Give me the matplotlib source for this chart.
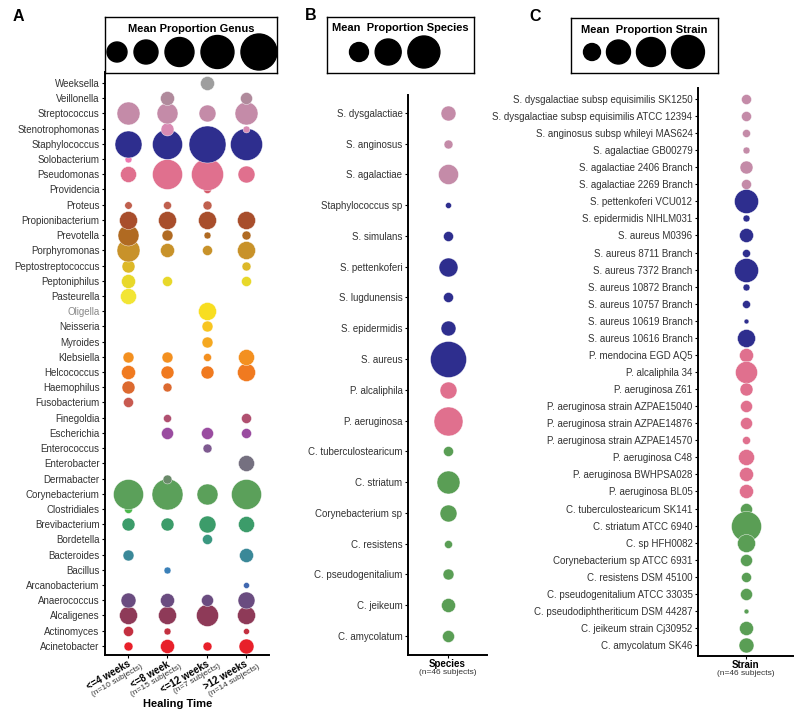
import numpy as np
import matplotlib
matplotlib.use("Agg")
import matplotlib.pyplot as plt
from matplotlib.transforms import offset_copy

plt.rcParams["font.family"] = ["Liberation Sans", "DejaVu Sans"]

# ---- panel A: genus x healing time (mean proportion, %) ----
genera = ["Acinetobacter", "Actinomyces", "Alcaligenes", "Anaerococcus", "Arcanobacterium",
          "Bacillus", "Bacteroides", "Bordetella", "Brevibacterium", "Clostridiales",
          "Corynebacterium", "Dermabacter", "Enterobacter", "Enterococcus", "Escherichia",
          "Finegoldia", "Fusobacterium", "Haemophilus", "Helcococcus", "Klebsiella",
          "Myroides", "Neisseria", "Oligella", "Pasteurella", "Peptoniphilus",
          "Peptostreptococcus", "Porphyromonas", "Prevotella", "Propionibacterium", "Proteus",
          "Providencia", "Pseudomonas", "Solobacterium", "Staphylococcus", "Stenotrophomonas",
          "Streptococcus", "Veillonella", "Weeksella"]
genus_colors = ["#E8202A", "#C33040", "#8E3A58", "#6A4C80", "#4068B0",
                "#3A80B8", "#3A8898", "#3A9880", "#3C9C6A", "#4CB84C",
                "#5BA05A", "#6A8A6A", "#757080", "#7E5A90", "#9A4CA0",
                "#B05070", "#C85A50", "#DC6A30", "#F07A20", "#F39020",
                "#F5A820", "#F8C520", "#F8DE20", "#F2E535", "#E8D82A",
                "#DDB828", "#C8922A", "#B06A22", "#A84E2C", "#C0604E",
                "#D45A6A", "#E0708E", "#EE77B0", "#2E2E8E", "#D98AB3",
                "#C48BA8", "#B08A9C", "#9E9E9E"]
heal_groups = ["<=4 weeks", "<=8 week", "<=12 weeks", ">12 weeks"]
heal_n = ["(n=10 subjects)", "(n=15 subjects)", "(n=7 subjects)", "(n=14 subjects)"]
wk4 = [2.0, 2.5, 8.1, 5.6, 0, 0, 3.0, 0, 4.2, 1.6,
       22.5, 0, 0, 0, 0, 0, 2.5, 4.2, 4.9, 3.0,
       0, 0, 0, 6.4, 4.9, 4.2, 13.2, 11.0, 8.1, 1.4,
       0, 6.4, 1.2, 18.2, 0, 13.2, 0, 0]
wk8 = [4.9, 1.2, 8.1, 4.9, 0, 1.2, 0, 0, 4.2, 0,
       24.0, 2.0, 0, 0, 3.6, 1.6, 0, 2.0, 4.2, 3.0,
       0, 0, 0, 0, 2.5, 0, 4.9, 3.0, 8.1, 1.6,
       0, 22.5, 0, 22.5, 4.2, 11.0, 4.9, 0]
wk12 = [2.0, 0, 12.1, 3.6, 0, 0, 0, 2.5, 7.2, 0,
        11.0, 0, 0, 2.0, 3.6, 0, 0, 0, 4.2, 1.6,
        3.0, 3.0, 8.1, 0, 0, 0, 2.5, 1.2, 8.1, 2.0,
        1.6, 25.6, 0, 34.2, 0, 7.2, 0, 4.9]
wk12p = [5.6, 0.9, 8.1, 7.2, 0.9, 0, 4.9, 0, 6.4, 0,
         22.5, 0, 6.4, 0, 2.5, 2.5, 0, 0, 8.1, 6.4,
         0, 0, 0, 0, 2.5, 2.0, 8.1, 2.0, 8.1, 0,
         0, 7.2, 0, 25.6, 1.2, 13.2, 3.6, 0]
genus_legend = [10.0, 14.4, 21.0, 27.2, 32.4]

# ---- panel B: species ----
species = ["S. dysgalactiae", "S. anginosus", "S. agalactiae", "Staphylococcus sp", "S. simulans",
           "S. pettenkoferi", "S. lugdunensis", "S. epidermidis", "S. aureus", "P. alcaliphila",
           "P. aeruginosa", "C. tuberculostearicum", "C. striatum", "Corynebacterium sp",
           "C. resistens", "C. pseudogenitalium", "C. jeikeum", "C. amycolatum"]
species_vals = [5.6, 2.0, 10.0, 0.9, 2.5, 9.0, 2.5, 5.6, 32.4, 7.2,
                21.0, 2.5, 13.2, 7.2, 1.6, 3.0, 4.9, 3.6]
species_genus = ["Strep"] * 3 + ["Staph"] * 6 + ["Pseudo"] * 2 + ["Coryne"] * 7
species_legend = [9.0, 16.9, 25.6]

# ---- panel C: strain ----
strains = ["S. dysgalactiae subsp equisimilis SK1250", "S. dysgalactiae subsp equisimilis ATCC 12394",
           "S. anginosus subsp whileyi MAS624", "S. agalactiae GB00279", "S. agalactiae 2406 Branch",
           "S. agalactiae 2269 Branch", "S. pettenkoferi VCU012", "S. epidermidis NIHLM031",
           "S. aureus M0396", "S. aureus 8711 Branch", "S. aureus 7372 Branch",
           "S. aureus 10872 Branch", "S. aureus 10757 Branch", "S. aureus 10619 Branch",
           "S. aureus 10616 Branch", "P. mendocina EGD AQ5", "P. alcaliphila 34",
           "P. aeruginosa Z61", "P. aeruginosa strain AZPAE15040", "P. aeruginosa strain AZPAE14876",
           "P. aeruginosa strain AZPAE14570", "P. aeruginosa C48", "P. aeruginosa BWHPSA028",
           "P. aeruginosa BL05", "C. tuberculostearicum SK141", "C. striatum ATCC 6940",
           "C. sp HFH0082", "Corynebacterium sp ATCC 6931", "C. resistens DSM 45100",
           "C. pseudogenitalium ATCC 33035", "C. pseudodiphtheriticum DSM 44287",
           "C. jeikeum strain Cj30952", "C. amycolatum SK46"]
strain_vals = [2.5, 2.5, 1.6, 1.2, 4.2, 2.5, 14.4, 1.2, 4.9, 1.6, 14.4,
               1.2, 1.6, 0.6, 8.1, 4.9, 12.1, 4.2, 3.6, 3.6, 1.6, 6.4,
               4.9, 4.9, 3.6, 22.5, 8.1, 3.6, 2.5, 3.6, 0.6, 4.9, 5.6]
strain_genus = ["Strep"] * 6 + ["Staph"] * 9 + ["Pseudo"] * 9 + ["Coryne"] * 9
strain_legend = [7.2, 14.4, 21.0, 27.2]

group_colors = {"Strep": "#C48BA8", "Staph": "#2E2E8E", "Pseudo": "#E0708E", "Coryne": "#5A9E55"}

W, H = 800, 716
TXT = "#333333"
fig = plt.figure(figsize=(W / 100, H / 100), dpi=100)


def px_axes(l, t, r, b):
    return fig.add_axes([l / W, 1 - b / H, (r - l) / W, (b - t) / H])


def diam(v):  # pixel diameter from mean proportion (area scale)
    return np.sqrt(np.asarray(v, float) * 40.0)


def msize(v):  # scatter size in pt^2
    return (diam(v) * 0.72) ** 2


def style(ax):
    for s in ["top", "right"]:
        ax.spines[s].set_visible(False)
    for s in ["left", "bottom"]:
        ax.spines[s].set_linewidth(1.4)
    ax.tick_params(length=2.5, width=0.8, pad=1.5, labelsize=7, labelcolor=TXT)


def legend_box(l, t, r, b, title, vals, start, gap, ty):
    lax = px_axes(l, t, r, b)
    w, h = r - l, b - t
    lax.set_xlim(0, w); lax.set_ylim(0, h)
    lax.set_xticks([]); lax.set_yticks([])
    for s in lax.spines.values():
        s.set_linewidth(1.0)
    d = diam(vals)
    xs = start + np.cumsum(d) - d / 2 + gap * np.arange(len(d))
    lax.scatter(xs, np.full(len(d), 21), s=msize(vals), color="black", clip_on=False)
    lax.text(w / 2, h - ty, title, ha="center", va="center", fontsize=8, fontweight="bold")


# ---------------- panel A ----------------
axA = px_axes(105, 72, 269, 655)
style(axA)
ypos = np.arange(len(genera))
for i, g in enumerate(genera):
    for j, col in enumerate([wk4, wk8, wk12, wk12p]):
        if col[i] > 0:
            axA.scatter(j + 1, i, s=msize(col[i]), color=genus_colors[i],
                        edgecolor="white", linewidth=0.3, zorder=3)
axA.set_yticks(ypos)
axA.set_yticklabels(genera)
axA.get_yticklabels()[genera.index("Oligella")].set_color("#888888")
axA.set_ylim(-0.6, len(genera) - 0.28)
axA.set_xlim(0.4, 4.6)
axA.set_xticks([1, 2, 3, 4])
axA.set_xticklabels([])
tr = axA.get_xaxis_transform()
for j in range(4):
    t1 = offset_copy(tr, fig=fig, x=-1, y=-4, units="dots")
    axA.text(j + 1, 0, heal_groups[j], transform=t1, rotation=30, rotation_mode="anchor",
             ha="right", va="top", fontsize=7, fontweight="bold", color="black")
    t2 = offset_copy(tr, fig=fig, x=12, y=-8, units="dots")
    axA.text(j + 1, 0, heal_n[j], transform=t2, rotation=30, rotation_mode="anchor",
             ha="right", va="top", fontsize=6, color=TXT)
fig.text(177.5 / W, 1 - 704 / H, "Healing Time", ha="center", va="center",
         fontsize=8, fontweight="bold")
legend_box(105, 17, 277, 73, "Mean Proportion Genus", genus_legend, 2, 7, 12)

# ---------------- panel B ----------------
axB = px_axes(408, 95, 487, 655)
style(axB)
nB = len(species)
for i, (sp, v, gg) in enumerate(zip(species, species_vals, species_genus)):
    axB.scatter(1, nB - 1 - i, s=msize(v), color=group_colors[gg],
                edgecolor="white", linewidth=0.3, zorder=3)
axB.set_yticks(nB - 1 - np.arange(nB))
axB.set_yticklabels(species)
axB.set_ylim(-0.62, nB - 1 + 0.58)
axB.set_xlim(0.5, 1.5)
axB.set_xticks([1]); axB.set_xticklabels([])
trB = axB.get_xaxis_transform()
axB.text(1, 0, "Species", transform=offset_copy(trB, fig=fig, y=-4, units="dots"),
         ha="center", va="top", fontsize=7, fontweight="bold")
axB.text(1, 0, "(n=46 subjects)", transform=offset_copy(trB, fig=fig, y=-14, units="dots"),
         ha="center", va="top", fontsize=6, color=TXT)
legend_box(327, 17, 474, 73, "Mean  Proportion Species", species_legend, 22.5, 6.7, 11)

# ---------------- panel C ----------------
axC = px_axes(698, 88, 793, 656)
style(axC)
nC = len(strains)
for i, (st, v, gg) in enumerate(zip(strains, strain_vals, strain_genus)):
    axC.scatter(1, nC - 1 - i, s=msize(v), color=group_colors[gg],
                edgecolor="white", linewidth=0.3, zorder=3)
axC.set_yticks(nC - 1 - np.arange(nC))
axC.set_yticklabels(strains)
axC.set_ylim(-0.64, nC - 1 + 0.64)
axC.set_xlim(0.5, 1.5)
axC.set_xticks([1]); axC.set_xticklabels([])
trC = axC.get_xaxis_transform()
axC.text(1, 0, "Strain", transform=offset_copy(trC, fig=fig, y=-4, units="dots"),
         ha="center", va="top", fontsize=7, fontweight="bold")
axC.text(1, 0, "(n=46 subjects)", transform=offset_copy(trC, fig=fig, y=-14, units="dots"),
         ha="center", va="top", fontsize=6, color=TXT)
legend_box(571, 18, 718, 73, "Mean  Proportion Strain", strain_legend, 12.5, 6, 12)

# panel letters
for lab, x, y in [("A", 13, 21), ("B", 305, 20), ("C", 529, 21)]:
    fig.text(x / W, 1 - y / H, lab, ha="left", va="baseline", fontsize=11.5, fontweight="bold")

fig.savefig("out.png", dpi=100)
